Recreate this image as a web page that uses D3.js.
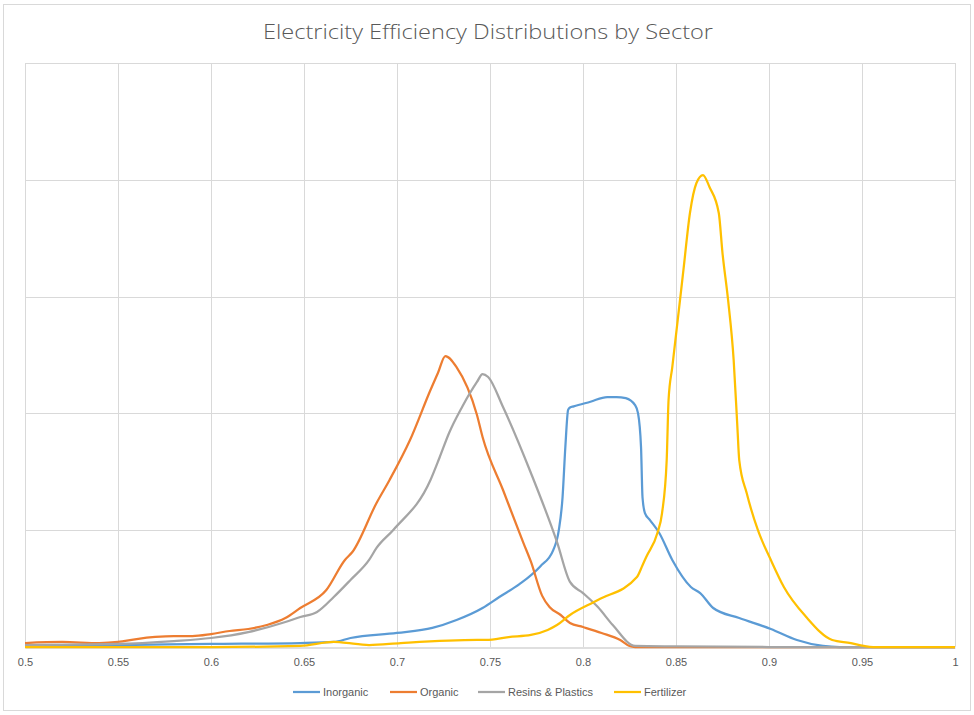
<!DOCTYPE html>
<html><head><meta charset="utf-8">
<script src="https://cdn.jsdelivr.net/npm/d3@7"></script>
<style>body{margin:0;background:#fff;}svg{display:block;}</style>
</head><body>
<svg id="c" width="974" height="715"></svg>
<script>
const title = "Electricity Efficiency Distributions by Sector";
const seriesNames = ["Inorganic","Organic","Resins & Plastics","Fertilizer"];
const seriesColors = ["#5B9BD5","#ED7D31","#A5A5A5","#FFC000"];
const xTicks = [0.5,0.55,0.6,0.65,0.7,0.75,0.8,0.85,0.9,0.95,1];
const xTickLabels = ["0.5","0.55","0.6","0.65","0.7","0.75","0.8","0.85","0.9","0.95","1"];
const yTicks = [0,1,2,3,4,5];

const inorganicX = [0.5,0.55,0.6,0.648,0.666,0.675,0.7,0.719,0.732,0.746,0.755,0.766,0.777,0.784,0.787,0.789,0.7905,0.792,0.793,0.795,0.804,0.813,0.818,0.823,0.828,0.8296,0.8312,0.832,0.8333,0.836,0.841,0.848,0.858,0.863,0.870,0.884,0.901,0.915,0.929,0.938,0.95,1.0];
const inorganicY = [0.009,0.017,0.026,0.034,0.043,0.077,0.12,0.163,0.231,0.334,0.428,0.54,0.69,0.83,1.0,1.28,1.71,2.03,2.05,2.06,2.10,2.14,2.14,2.13,2.07,2.0,1.71,1.28,1.147,1.087,0.976,0.745,0.514,0.462,0.334,0.248,0.154,0.06,0.009,0,0,0];

const organicX = [0.5,0.52,0.54,0.55,0.56,0.57,0.58,0.59,0.6,0.61,0.62,0.63,0.64,0.648,0.662,0.672,0.676,0.689,0.696,0.707,0.718,0.722,0.726,0.732,0.743,0.746,0.757,0.768,0.772,0.778,0.782,0.788,0.793,0.8,0.81,0.82,0.825,0.828,1.0];
const organicY = [0.034,0.043,0.034,0.043,0.068,0.086,0.094,0.094,0.111,0.137,0.154,0.188,0.248,0.334,0.488,0.745,0.813,1.233,1.43,1.772,2.2,2.346,2.491,2.397,1.986,1.798,1.344,0.89,0.73,0.44,0.342,0.274,0.205,0.171,0.12,0.06,0.009,0,0];

const resinsX = [0.5,0.55,0.58,0.6,0.62,0.64,0.648,0.657,0.666,0.675,0.685,0.689,0.698,0.718,0.723,0.728,0.735,0.743,0.746,0.749,0.757,0.772,0.786,0.793,0.8,0.808,0.816,0.828,0.85,0.9,1.0];
const resinsY = [0.017,0.026,0.051,0.077,0.128,0.214,0.257,0.30,0.428,0.574,0.745,0.848,1.002,1.43,1.627,1.832,2.055,2.269,2.337,2.312,2.055,1.49,0.90,0.557,0.462,0.342,0.188,0.009,0.005,0,0];

const fertilizerX = [0.5,0.6,0.648,0.666,0.67,0.685,0.702,0.743,0.748,0.76,0.772,0.781,0.786,0.793,0.808,0.829,0.832,0.834,0.840,0.8425,0.845,0.846,0.848,0.8505,0.854,0.8575,0.861,0.8645,0.868,0.873,0.875,0.878,0.881,0.883,0.884,0.888,0.894,0.901,0.908,0.92,0.934,0.944,0.951,0.956,1.0];
const fertilizerY = [0,0,0.009,0.043,0.04,0.017,0.034,0.06,0.06,0.085,0.103,0.146,0.188,0.274,0.402,0.599,0.70,0.771,0.976,1.147,1.601,2.115,2.397,2.74,3.228,3.716,3.973,4.041,3.938,3.716,3.373,2.971,2.457,1.884,1.601,1.318,1.002,0.745,0.514,0.257,0.06,0.034,0.009,0,0];

const seriesX = [inorganicX, organicX, resinsX, fertilizerX];
const seriesY = [inorganicY, organicY, resinsY, fertilizerY];

const svg = d3.select("#c");
const m = {left:25, right:19, top:63, bottom:68};
const W = 974, H = 715;
const x = d3.scaleLinear().domain([0.5,1]).range([m.left, W - m.right]);
const y = d3.scaleLinear().domain([0,5]).range([H - m.bottom, m.top]);

// outer border
svg.append("rect").attr("x",3.5).attr("y",4.5).attr("width",967).attr("height",706)
  .attr("fill","#fff").attr("stroke","#d9d9d9").attr("stroke-width",1);

// title
svg.append("text").attr("x",488).attr("y",39).attr("text-anchor","middle")
  .attr("font-family","'Open Sans', 'Liberation Sans', sans-serif").attr("font-weight",300)
  .attr("font-size",20).attr("fill","#595959")
  .attr("textLength",450).attr("lengthAdjust","spacingAndGlyphs").text(title);

// grid
const g = svg.append("g");
g.selectAll("line.h").data(yTicks.slice(1)).join("line")
  .attr("x1",x(0.5)).attr("x2",x(1)).attr("y1",d=>Math.round(y(d))+0.5).attr("y2",d=>Math.round(y(d))+0.5)
  .attr("stroke","#d9d9d9").attr("stroke-width",1);
g.selectAll("line.v").data(xTicks).join("line")
  .attr("x1",d=>Math.round(x(d))+0.5).attr("x2",d=>Math.round(x(d))+0.5).attr("y1",y(5)).attr("y2",y(0))
  .attr("stroke","#d9d9d9").attr("stroke-width",1);

// x axis
const xAxis = d3.axisBottom(x).tickValues(xTicks).tickFormat((d,i)=>xTickLabels[i]).tickSize(0).tickPadding(11);
const ax = svg.append("g").attr("transform",`translate(0,${Math.round(y(0))+0.5})`).call(xAxis);
ax.select(".domain").attr("stroke","#bfbfbf");
ax.selectAll("text").attr("font-family","'Liberation Sans', Arial, sans-serif").attr("font-size",11).attr("fill","#595959");

// lines
const line = d3.line().x(d=>x(d[0])).y(d=>y(d[1])).curve(d3.curveMonotoneX);
seriesNames.forEach((n,i)=>{
  const pts = seriesX[i].map((v,j)=>[v, seriesY[i][j]]);
  svg.append("path").datum(pts).attr("d",line).attr("fill","none")
    .attr("stroke",seriesColors[i]).attr("stroke-width",2.25).attr("stroke-linejoin","round");
});

// legend
const legX = [293, 390, 478, 614];
const lg = svg.append("g");
seriesNames.forEach((n,i)=>{
  lg.append("line").attr("x1",legX[i]).attr("x2",legX[i]+27).attr("y1",692).attr("y2",692)
    .attr("stroke",seriesColors[i]).attr("stroke-width",2.25);
  lg.append("text").attr("x",legX[i]+30).attr("y",696)
    .attr("font-family","'Liberation Sans', Arial, sans-serif").attr("font-size",11).attr("fill","#595959").text(n);
});
</script>
</body></html>
